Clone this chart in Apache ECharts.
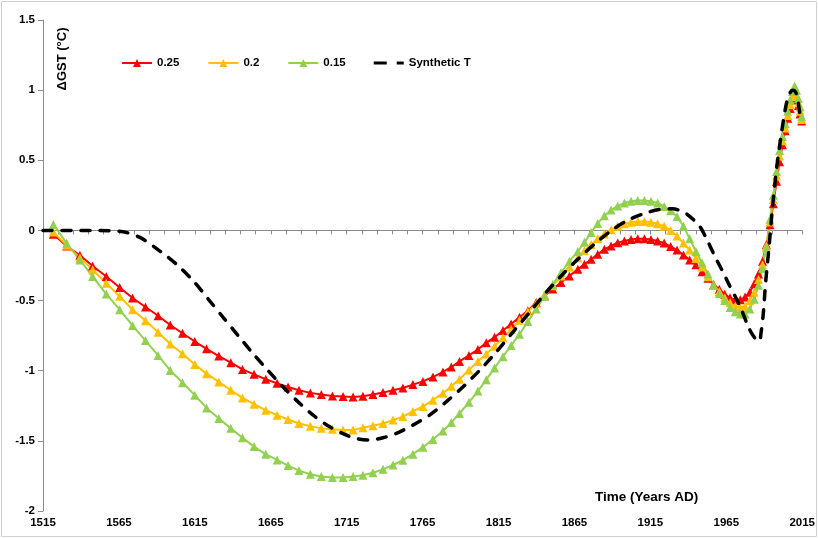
<!DOCTYPE html>
<html><head><meta charset="utf-8">
<script src="https://cdn.jsdelivr.net/npm/echarts@6/dist/echarts.min.js"></script>
<style>html,body{margin:0;padding:0;background:#fff}#c{width:818px;height:538px}</style>
</head><body><div id="c"></div>
<script>
// ---- data ----
const years = [
1521.8,1530.6,1539.3,1547.7,1556.7,1565.5,1574.0,1582.5,1590.8,1598.8,
1606.9,1615.0,1622.7,1630.8,1638.7,1646.4,1654.0,1661.7,1669.2,1676.4,
1683.6,1691.1,1698.3,1705.6,1712.6,1719.2,1725.7,1732.3,1738.9,1745.5,
1752.0,1758.6,1765.2,1771.8,1778.4,1783.9,1789.3,1795.5,1801.4,1806.9,
1812.4,1817.9,1823.3,1828.8,1834.3,1839.8,1845.3,1850.7,1856.2,1861.7,
1867.2,1871.6,1876.0,1880.3,1884.7,1889.1,1893.5,1897.9,1902.3,1906.7,
1911.1,1915.4,1919.8,
1924.1,1928.4,1932.6,1936.8,1940.9,1945.0,1949.0,1952.9,1956.7,1960.4,
1964.0,1967.5,1970.9,1974.2,1977.4,1980.5,1983.4,1986.2,1988.9,1991.4,
1993.8,1996.0,1998.1,2000.1,2002.0,2003.8,2005.5,2007.1,2008.6,2010.0,
2011.3,2012.5,2013.6,2014.6];

const red = [
-0.028,-0.111,-0.177,-0.253,-0.329,-0.407,-0.482,-0.546,-0.608,-0.674,
-0.733,-0.792,-0.844,-0.896,-0.943,-0.991,-1.026,-1.061,-1.090,-1.116,
-1.139,-1.158,-1.170,-1.180,-1.184,-1.187,
-1.182,-1.170,-1.156,-1.139,-1.123,-1.099,-1.076,-1.045,-1.009,-0.974,
-0.934,-0.891,-0.849,-0.801,-0.761,-0.714,-0.667,-0.619,-0.572,-0.513,
-0.466,-0.418,-0.371,-0.324,-0.277,-0.241,-0.206,-0.170,-0.135,-0.111,
-0.087,-0.076,-0.064,-0.059,-0.059,-0.064,-0.076,
-0.09,-0.115,-0.14,-0.175,-0.21,-0.245,-0.295,-0.34,-0.385,-0.42,
-0.455,-0.48,-0.495,-0.495,-0.475,-0.44,-0.38,-0.31,-0.22,-0.10,
0.04,0.19,0.35,0.49,0.61,0.71,0.80,0.87,0.93,0.96,
0.94,0.89,0.83,0.78];

const yellow = [
-0.012,-0.106,-0.194,-0.281,-0.376,-0.470,-0.565,-0.643,-0.726,-0.809,
-0.879,-0.955,-1.021,-1.080,-1.139,-1.194,-1.239,-1.281,-1.317,-1.348,
-1.376,-1.395,-1.411,-1.418,-1.423,-1.423,
-1.407,-1.392,-1.376,-1.352,-1.327,-1.29,-1.255,-1.21,-1.16,-1.11,
-1.06,-0.995,-0.935,-0.88,-0.825,-0.765,-0.705,-0.64,-0.58,-0.52,
-0.46,-0.395,-0.325,-0.26,-0.195,-0.145,-0.10,-0.06,-0.025,0.005,
0.03,0.047,0.059,0.064,0.064,0.059,0.047,
0.03,0.0,-0.04,-0.09,-0.14,-0.20,-0.26,-0.33,-0.39,-0.435,
-0.48,-0.515,-0.54,-0.55,-0.54,-0.50,-0.44,-0.35,-0.245,-0.11,
0.06,0.22,0.39,0.53,0.64,0.73,0.82,0.895,0.955,0.99,
0.965,0.91,0.85,0.79];

const green = [
0.043,-0.092,-0.21,-0.329,-0.454,-0.565,-0.678,-0.785,-0.891,-0.998,
-1.085,-1.175,-1.265,-1.34,-1.411,-1.478,-1.541,-1.596,-1.636,-1.676,
-1.712,-1.738,-1.754,-1.761,-1.761,-1.754,
-1.745,-1.727,-1.703,-1.672,-1.638,-1.595,-1.545,-1.49,-1.43,-1.37,
-1.305,-1.225,-1.145,-1.065,-0.98,-0.90,-0.82,-0.74,-0.65,-0.56,
-0.47,-0.385,-0.30,-0.22,-0.15,-0.085,-0.015,0.05,0.105,0.145,
0.175,0.195,0.208,0.213,0.213,0.208,0.196,
0.17,0.14,0.10,0.03,-0.06,-0.15,-0.23,-0.31,-0.39,-0.45,
-0.50,-0.55,-0.58,-0.595,-0.595,-0.56,-0.49,-0.39,-0.27,-0.12,
0.08,0.25,0.42,0.57,0.67,0.76,0.85,0.93,0.99,1.03,
1.0,0.94,0.88,0.81];

const synthYears = [1515,1540,1565,1578.8,1592,1602.9,1613.9,1623.8,1633.6,1643.5,
1653.4,1663.2,1673.1,1683,1692.9,1703.8,1714.8,1722,1730,1738.9,
1747.7,1758.6,1769.6,1780.5,1791.5,1802.5,1813.4,1824.4,1835.4,1846.3,
1857.3,1868.3,1879.3,1890.2,1901.2,1912.2,1921,1929.7,1937,1942,
1947.2,1952,1958.2,1963,1967,1973.6,1980.1,1984,1986.7,1988,
1989.3,1991,1993.3,1995.4,1998.1,2001,2004.3,2006.5,2008.6,2010.5,
2011.9,2014];
const synthVals = [0,0,-0.005,-0.05,-0.147,-0.241,-0.359,-0.489,-0.619,-0.749,
-0.879,-0.998,-1.116,-1.222,-1.317,-1.40,-1.459,-1.485,-1.494,-1.478,
-1.447,-1.388,-1.317,-1.222,-1.116,-0.998,-0.868,-0.726,-0.584,-0.442,
-0.312,-0.194,-0.087,0.007,0.078,0.125,0.149,0.154,0.13,0.09,
0.035,-0.06,-0.20,-0.30,-0.39,-0.53,-0.70,-0.77,-0.79,-0.72,
-0.60,-0.36,-0.10,0.16,0.44,0.67,0.89,0.97,1.0,0.99,
0.94,0.79];

const seriesNames = ['0.25','0.2','0.15','Synthetic T'];
const xTickLabels = [1515,1565,1615,1665,1715,1765,1815,1865,1915,1965,2015];
const X0 = xTickLabels[0];

// ---- chart ----
const FONT = "'Liberation Sans',Arial,sans-serif";
const AX = '#8c8c8c';
const chart = echarts.init(document.getElementById('c'));
const pts = vals => years.map((y,i)=>[y - X0, vals[i]]);
const triSeries = (name, vals, color) => ({
  name, type:'line', data: pts(vals), xAxisIndex:0,
  symbol:'triangle', symbolSize:9, showSymbol:true,
  itemStyle:{color}, lineStyle:{color, width:2}, z:2, silent:true
});
const dashIcon = 'path://M0,0L0.01,0L0,0.01Z M0,3.5H13V6.5H0Z M23,3.5H30V6.5H23Z M30,10L29.99,10L30,9.99Z';

chart.setOption({
  animation:false,
  grid:{left:43, right:15, top:20, bottom:27},
  legend:{
    left:116, top:52, itemWidth:30, itemHeight:10, itemGap:28,
    data: [seriesNames[0], seriesNames[1], seriesNames[2], {name:seriesNames[3], icon:dashIcon}],
    textStyle:{fontFamily:FONT, fontWeight:'bold', fontSize:11.5, color:'#000'}
  },
  xAxis:[{
    type:'value', min:0, max:500, interval:10,
    axisLine:{onZero:true, lineStyle:{color:AX, width:1}},
    axisTick:{show:true, length:4, lineStyle:{color:AX}},
    axisLabel:{show:false}, splitLine:{show:false}
  },{
    type:'value', min:0, max:500, interval:50, position:'bottom',
    axisLine:{show:false, onZero:false}, axisTick:{show:false},
    axisLabel:{formatter:v=>String(v + X0), fontFamily:FONT, fontWeight:'bold', fontSize:11.5, color:'#000', margin:6},
    splitLine:{show:false}
  }],
  yAxis:{
    type:'value', min:-2, max:1.5, interval:0.5,
    axisLine:{show:true, onZero:false, lineStyle:{color:AX}},
    axisTick:{show:true, length:5, lineStyle:{color:AX}},
    axisLabel:{fontFamily:FONT, fontWeight:'bold', fontSize:11.5, color:'#000', margin:8},
    splitLine:{show:false}
  },
  series:[
    triSeries(seriesNames[0], red, '#FF0000'),
    triSeries(seriesNames[1], yellow, '#FFC000'),
    triSeries(seriesNames[2], green, '#92D050'),
    {name:seriesNames[3], type:'line', xAxisIndex:0,
     data: synthYears.map((y,i)=>[y - X0, synthVals[i]]),
     symbol:'none', smooth:0.3, z:5, silent:true,
     itemStyle:{color:'#000'},
     lineStyle:{color:'#000', width:3.5, type:[9,10], cap:'round'}}
  ],
  graphic:[
    {type:'rect', shape:{x:1.5, y:1.5, width:815, height:535}, style:{fill:'none', stroke:'#d0d0d0', lineWidth:1}, silent:true},
    {type:'text', left:595, top:490, style:{text:'Time (Years AD)', font:"bold 13.5px "+FONT, fill:'#000'}},
    {type:'text', x:62, y:59, rotation:Math.PI/2,
     style:{text:'ΔGST (°C)', font:"bold 13px "+FONT, fill:'#000', align:'center', verticalAlign:'middle'}}
  ]
});
</script></body></html>
